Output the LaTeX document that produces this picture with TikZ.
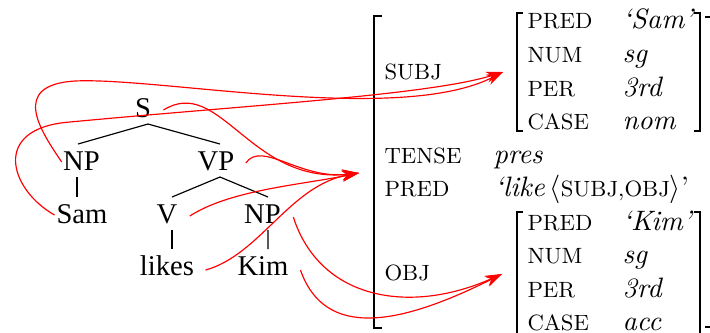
\documentclass[tikz,border=0pt]{standalone}
\usepackage{fontspec}
\newfontfamily\treefont{Liberation Serif}
\usetikzlibrary{arrows.meta,calc}
\begin{document}
\begin{tikzpicture}[x=0.3846pt,y=-0.3846pt,
  font=\fontsize{10.8}{13}\selectfont,
  cat/.style={font=\treefont\fontsize{11}{13}\selectfont, inner xsep=0pt, inner ysep=2.5pt,
              text height=7.3pt, text depth=0pt, anchor=base},
  branch/.style={line width=0.45pt},
  avmbrack/.style={line width=0.8pt},
  attr/.style={anchor=base west, inner sep=0pt},
  feat/.style={attr, font=\fontsize{8.5}{10}\selectfont},
  link/.style={red, line width=0.45pt, -{Stealth[length=6.5pt,width=4.2pt]}}]
\useasboundingbox (0,0) rectangle (710,332);
\clip (0,0) rectangle (710,332);

% ---- phrase-structure tree ----
\node[cat] (S)     at (143,117) {S};
\node[cat] (NPs)   at (81.5,170) {NP};
\node[cat] (VP)    at (216,170) {VP};
\node[cat] (Sam)   at (82,223) {Sam};
\node[cat] (V)     at (167,223) {V};
\node[cat] (NPo)   at (262.5,223) {NP};
\node[cat] (likes) at (167,275) {likes};
\node[cat] (Kim)   at (263,275) {Kim};

\draw[branch] ($(S.south)+(5,0)$) -- ($(NPs.north)+(-3.5,0)$);
\draw[branch] ($(S.south)+(5,0)$) -- ($(VP.north)+(4,0)$);
\draw[branch] ($(VP.south)+(4,0)$) -- ($(V.north)+(5,0)$);
\draw[branch] ($(VP.south)+(4,0)$) -- ($(NPo.north)+(5.5,0)$);
\draw[branch] ($(NPs.south)+(-4.5,0)$) -- ($(Sam.north)+(-5,0)$);
\draw[branch] ($(V.south)+(5,0)$) -- ($(likes.north)+(5,0)$);
\draw[branch] ($(NPo.south)+(5.5,0)$) -- ($(Kim.north)+(5,0)$);

% ---- f-structure ----
% outer brackets
\draw[avmbrack] (382,16) -- (374,16) -- (374,328) -- (382,328);
\draw[avmbrack] (705,17) -- (713,17) -- (713,327) -- (705,327);
% SUBJ value brackets
\draw[avmbrack] (523,13) -- (517,13) -- (517,131) -- (523,131);
\draw[avmbrack] (694,13) -- (700,13) -- (700,131) -- (694,131);
% OBJ value brackets
\draw[avmbrack] (523,212) -- (517,212) -- (517,346) -- (523,346);
\draw[avmbrack] (694,212) -- (700,212) -- (700,346) -- (694,346);

\node[feat] (fSubj)  at (384,79)  {SUBJ};
\node[feat] (fTense) at (384,163) {TENSE};
\node[attr] (fPres)  at (493,163) {\textit{pres}};
\node[feat] (fPred)  at (384,196) {PRED};
\node[attr] (fLike)  at (494,196) {\textit{‘like}\,$\langle${\fontsize{8.5}{10}\selectfont SUBJ,OBJ}$\rangle$’};
\node[feat] (fObj)   at (384,280) {OBJ};

\node[feat] (sPred)  at (527,28)  {PRED};
\node[attr] (sPredV) at (622,28)  {\textit{‘Sam’}};
\node[feat] (sNum)   at (527,62)  {NUM};
\node[attr] (sNumV)  at (622,62)  {\textit{sg}};
\node[feat] (sPer)   at (527,96)  {PER};
\node[attr] (sPerV)  at (622,96)  {\textit{3rd}};
\node[feat] (sCase)  at (527,129) {CASE};
\node[attr] (sCaseV) at (622,129) {\textit{nom}};

\node[feat] (oPred)  at (527,230) {PRED};
\node[attr] (oPredV) at (622,230) {\textit{‘Kim’}};
\node[feat] (oNum)   at (527,263) {NUM};
\node[attr] (oNumV)  at (622,263) {\textit{sg}};
\node[feat] (oPer)   at (527,297) {PER};
\node[attr] (oPerV)  at (622,297) {\textit{3rd}};
\node[feat] (oCase)  at (527,330) {CASE};
\node[attr] (oCaseV) at (622,330) {\textit{acc}};

% ---- correspondence arrows ----
\coordinate (subjTip) at (503,72);
\coordinate (predTip) at (359,173);
\coordinate (objTip)  at (502,274);

\draw[link] ($(NPs.west)+(-1,1.5)$) .. controls (40,130) and (10,85) .. (75,81)
            .. controls (160,77) and (400,125) .. (subjTip);
\draw[link] ($(Sam.west)+(-1.5,1.5)$) .. controls (10,190) and (-10,128) .. (70,122)
            .. controls (250,105) and (430,95) .. (subjTip);

\draw[link] ($(S.east)+(12,2.5)$) .. controls (220,75) and (250,185) .. (predTip);
\draw[link] ($(VP.east)+(11,2.5)$) .. controls (262,140) and (300,180) .. (predTip);
\draw[link] ($(V.east)+(12,2.5)$) .. controls (230,190) and (300,185) .. (predTip);
\draw[link] ($(likes.east)+(11,4.5)$) .. controls (260,255) and (290,185) .. (predTip);

\draw[link] ($(NPo.east)+(12,3.5)$) .. controls (320,300) and (410,315) .. (objTip);
\draw[link] ($(Kim.east)+(11.5,4.5)$) .. controls (325,340) and (400,325) .. (objTip);
\end{tikzpicture}
\end{document}
